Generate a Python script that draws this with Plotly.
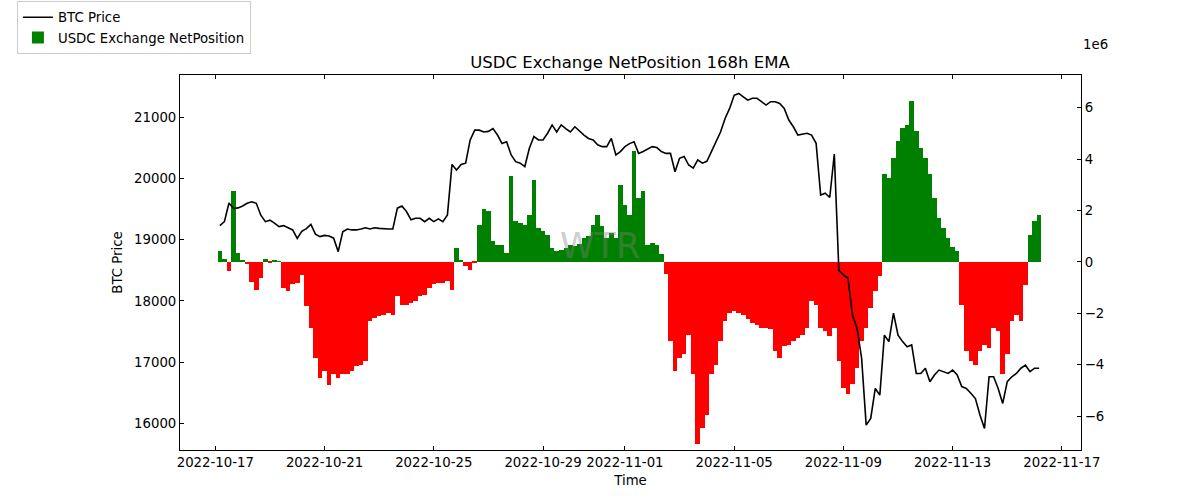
import numpy as np
import pandas as pd
import plotly.graph_objects as go

# 4-hourly samples starting 2022-10-17 04:00
start_time = "2022-10-17 04:00"
step_hours = 4

btc_price = [
    19230, 19295, 19600, 19510, 19520, 19550, 19595, 19620, 19595, 19400,
    19295, 19320, 19270, 19215, 19230, 19190, 19160, 19020, 19135, 19180,
    19250, 19090, 19050, 19070, 19060, 19025, 18805, 19130, 19175, 19160,
    19160, 19175, 19195, 19175, 19195, 19185, 19175, 19175, 19175, 19515,
    19550, 19460, 19325, 19350, 19350, 19295, 19350, 19295, 19340, 19295,
    19405, 20230, 20140, 20230, 20250, 20630, 20790, 20790, 20760, 20770,
    20815, 20710, 20570, 20600, 20385, 20275, 20250, 20195, 20495, 20685,
    20630, 20630, 20740, 20875, 20760, 20875, 20815, 20760, 20845, 20770,
    20710, 20655, 20630, 20550, 20520, 20520, 20655, 20385, 20440, 20520,
    20570, 20600, 20410, 20440, 20480, 20520, 20505, 20440, 20410, 20410,
    20110, 20330, 20360, 20220, 20170, 20305, 20250, 20280, 20440, 20600,
    20760, 20980, 21145, 21360, 21390, 21335, 21280, 21310, 21310, 21255,
    21200, 21255, 21255, 21225, 21145, 20955, 20845, 20710, 20720, 20740,
    20710, 20575, 19730, 19760, 19690, 20400, 18500, 18425, 18370, 17770,
    17550, 17060, 15970, 16080, 16570, 16460, 17440, 17335, 17800, 17440,
    17335, 17250, 17280, 16815, 16815, 16900, 16680, 16790, 16870, 16845,
    16815, 16870, 16790, 16600, 16570, 16490, 16405, 16135, 15915, 16760,
    16760, 16570, 16325, 16680, 16760, 16815, 16900, 16950, 16845, 16900,
    16900,
]

# USDC exchange net position (168h EMA), in millions
netpos_millions = [
    0.42, 0.1, -0.35, 2.75, 0.35, 0.05, -0.1, -0.8, -1.08, -0.62,
    0.1, -0.05, 0.06, 0.02, -1.0, -1.15, -0.88, -0.82, -0.5, -1.72,
    -2.57, -3.73, -4.5, -4.25, -4.8, -4.38, -4.5, -4.38, -4.38, -4.25,
    -4.06, -4.0, -3.87, -2.31, -2.18, -2.11, -2.05, -1.98, -2.05, -1.34,
    -1.66, -1.66, -1.6, -1.53, -1.34, -1.27, -1.01, -0.88, -0.82, -0.82,
    -0.75, -1.1, 0.54, 0.09, -0.17, -0.3, -0.04, 1.45, 2.04, 1.97,
    0.8, 0.67, 0.67, 0.35, 3.36, 1.58, 1.5, 1.45, 1.84, 3.2,
    1.32, 1.19, 1.06, 0.54, 0.42, 0.48, 0.54, 0.67, 0.61, 0.7,
    0.93, 1.0, 1.45, 1.84, 1.39, 0.93, 1.13, 0.93, 3.0, 2.23,
    1.84, 4.3, 2.5, 2.75, 0.67, 0.74, 0.67, 0.29, -0.49, -3.09,
    -4.25, -3.73, -3.6, -2.83, -4.38, -7.1, -6.46, -5.94, -4.38, -4.0,
    -3.09, -2.31, -1.98, -1.92, -1.98, -2.05, -2.24, -2.37, -2.44, -2.57,
    -2.57, -2.63, -3.48, -3.73, -3.28, -3.22, -3.09, -2.96, -2.83, -2.57,
    -1.53, -1.66, -2.57, -2.7, -2.9, -2.57, -3.87, -4.9, -5.16, -4.77,
    -4.12, -3.09, -2.57, -1.79, -1.14, -0.55, 3.4, 3.27, 4.05, 4.7,
    5.21, 5.34, 6.25, 5.08, 4.43, 4.05, 3.4, 2.49, 1.71, 1.32,
    0.93, 0.58, 0.42, -1.66, -3.48, -3.87, -4.0, -3.48, -3.22, -3.35,
    -2.57, -2.7, -4.38, -3.6, -2.31, -2.05, -2.31, -0.9, 1.06, 1.58,
    1.84,
]

x_tick_dates = ["2022-10-17", "2022-10-21", "2022-10-25", "2022-10-29", "2022-11-01",
                "2022-11-05", "2022-11-09", "2022-11-13", "2022-11-17"]
price_ticks = [16000, 17000, 18000, 19000, 20000, 21000]
net_ticks = [-6, -4, -2, 0, 2, 4, 6]

times = pd.date_range(start_time, periods=len(btc_price), freq=f"{step_hours}h")
net = np.array(netpos_millions, dtype=float)
pos_vals = np.where(net > 0, net, np.nan)
neg_vals = np.where(net <= 0, net, np.nan)

FONT = "DejaVu Sans"
bar_w = step_hours * 3600 * 1000

fig = go.Figure()
fig.add_trace(go.Scatter(x=times, y=btc_price, mode="lines", name="BTC Price",
                         line=dict(color="black", width=1.6), yaxis="y2"))
fig.add_trace(go.Bar(x=times, y=pos_vals, name="USDC Exchange NetPosition",
                     marker=dict(color="#008000", line=dict(width=0)), width=bar_w, yaxis="y"))
fig.add_trace(go.Bar(x=times, y=neg_vals, name="USDC Exchange NetPosition neg", showlegend=False,
                     marker=dict(color="#ff0000", line=dict(width=0)), width=bar_w, yaxis="y"))

tickfont = dict(family=FONT, size=13.3, color="black")

fig.update_layout(
    width=1200, height=500,
    margin=dict(l=180, r=119, t=75, b=50, autoexpand=False),
    paper_bgcolor="white", plot_bgcolor="white",
    barmode="overlay", bargap=0,
    font=dict(family=FONT, size=13.3, color="black"),
    title=dict(text="USDC Exchange NetPosition 168h EMA", x=630 / 1200, xref="container",
               y=1 - 62 / 500, yref="container", xanchor="center", yanchor="middle",
               font=dict(family=FONT, size=16.5, color="black")),
    xaxis=dict(type="date", range=["2022-10-15 16:58", "2022-11-17 16:48"],
               tickvals=x_tick_dates, ticktext=x_tick_dates,
               ticks="inside", ticklen=4, tickcolor="black",
               showline=True, linecolor="black", linewidth=1, mirror="ticks",
               showgrid=False, zeroline=False, tickfont=tickfont, automargin=False,
               title=dict(text="Time", font=tickfont, standoff=6)),
    yaxis=dict(side="right", range=[-7.32, 7.27], tickvals=net_ticks,
               ticktext=[str(v).replace("-", "\u2212") for v in net_ticks],
               ticks="inside", ticklen=4, tickcolor="black",
               showline=True, linecolor="black", linewidth=1, automargin=False,
               showgrid=False, zeroline=False, tickfont=tickfont),
    yaxis2=dict(side="left", overlaying="y", range=[15564, 21691], tickvals=price_ticks,
                ticktext=[str(v) for v in price_ticks],
                ticks="inside", ticklen=4, tickcolor="black",
                showline=True, linecolor="black", linewidth=1, automargin=False,
                showgrid=False, zeroline=False, tickfont=tickfont,
                title=dict(text="BTC Price", font=tickfont, standoff=8)),
    legend=dict(x=-0.181, y=1.197, xanchor="left", yanchor="top",
                bgcolor="white", bordercolor="#cccccc", borderwidth=1,
                font=dict(family=FONT, size=13.3, color="black"),
                traceorder="normal", tracegroupgap=0),
    annotations=[
        dict(text="1e6", x=1.0, y=1.08, xref="paper", yref="paper", xanchor="left",
             yanchor="middle", showarrow=False, font=dict(family=FONT, size=13.3, color="black")),
        dict(text="WTR", x=(600 - 180) / 901, y=(450 - 246) / 375, xref="paper", yref="paper",
             showarrow=False, font=dict(family=FONT, size=35, color="rgba(128,128,128,0.4)")),
    ],
)

fig.write_html("out.html")
